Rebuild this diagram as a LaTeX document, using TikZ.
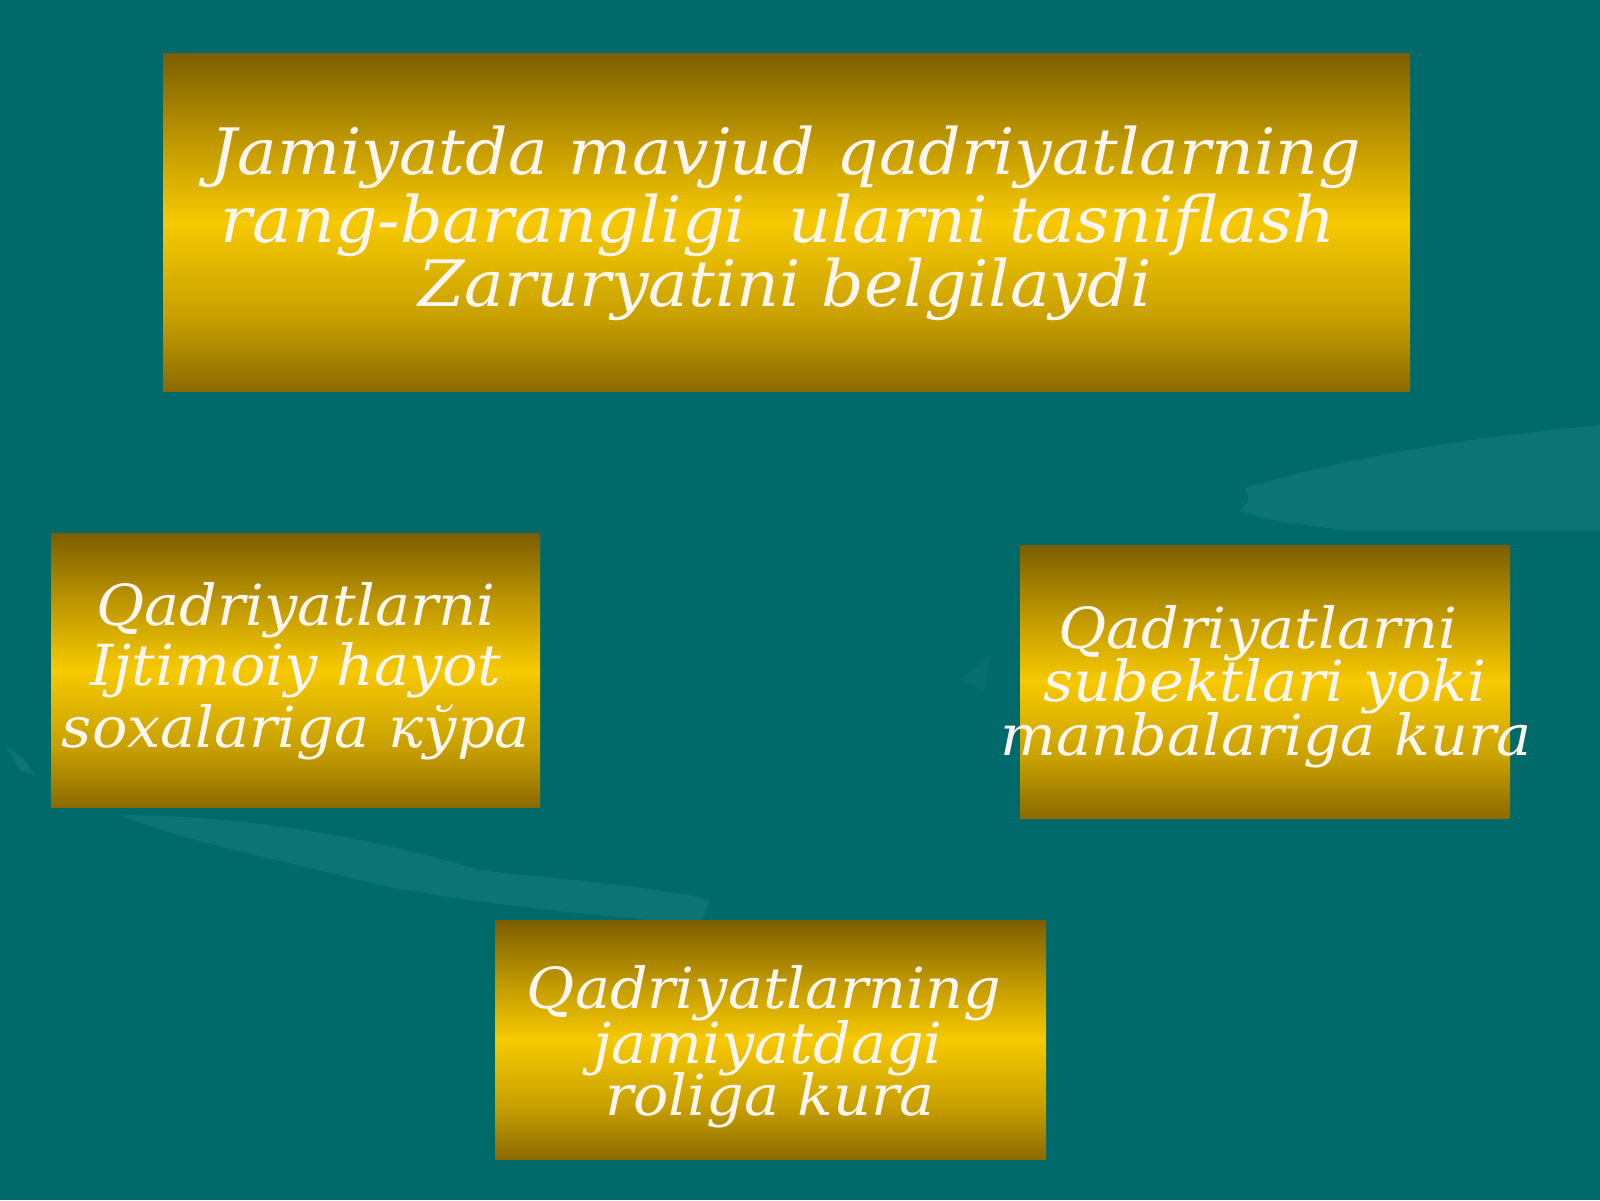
\documentclass[tikz,border=0pt]{standalone}
\usepackage{fontspec}
\setmainfont{DejaVu Serif}[FakeStretch=1.04]
\definecolor{bg}{HTML}{006A6A}
\definecolor{bglight}{HTML}{2A8C86}
\definecolor{gA}{HTML}{7C5E00}
\definecolor{gB}{HTML}{C49C00}
\definecolor{gC}{HTML}{F6C900}
\definecolor{gD}{HTML}{C8A000}
\definecolor{gE}{HTML}{8C6A00}
\definecolor{txtc}{HTML}{FFF6F2}
\pgfdeclareverticalshading{goldsh}{100bp}{color(0bp)=(gE); color(25bp)=(gE); color(36bp)=(gD); color(50bp)=(gC); color(61bp)=(gB); color(75bp)=(gA); color(100bp)=(gA)}
\begin{document}
\begin{tikzpicture}[x=0.5pt,y=-0.5pt,
  goldbox/.style={rectangle, inner sep=0pt, outer sep=0pt, shading=goldsh, anchor=north west},
  bigtxt/.style={text=txtc, inner sep=0pt, anchor=base, font=\fontsize{32pt}{34pt}\selectfont\itshape},
  smalltxt/.style={text=txtc, inner sep=0pt, anchor=base, font=\fontsize{28.3pt}{30pt}\selectfont\itshape},
  hand/.style={fill=bglight, opacity=0.3, draw=none}]
\fill[bg] (0,0) rectangle (1600,1200);
\useasboundingbox (0,0) rectangle (1600,1200);
% faint background shapes
\fill[hand] (1245,488) .. controls (1320,465) and (1440,440) .. (1600,425) -- (1600,530) -- (1345,530) .. controls (1300,525) and (1260,520) .. (1240,510) .. controls (1250,500) .. (1245,488) -- cycle;
\fill[hand] (120,815) .. controls (250,815) and (380,840) .. (480,870) .. controls (560,880) and (650,885) .. (710,900) -- (700,925) .. controls (600,915) and (480,905) .. (380,885) .. controls (280,860) and (180,840) .. (120,815) -- cycle;
\fill[hand] (5,745) -- (25,760) -- (35,775) -- (20,770) -- cycle;
\fill[hand, opacity=0.15] (960,680) -- (990,655) -- (985,690) -- cycle;
% boxes
\node[goldbox, minimum width=623.5pt, minimum height=169pt] (top) at (163,53) {};
\node[goldbox, minimum width=244.5pt, minimum height=137pt] (left) at (51,533) {};
\node[goldbox, minimum width=245pt, minimum height=136.5pt] (right) at (1020,545) {};
\node[goldbox, minimum width=275.5pt, minimum height=119.5pt] (bottom) at (495,920) {};
% texts
\node[bigtxt] (t1) at (786,174) {Jamiyatda mavjud qadriyatlarning};
\node[bigtxt] (t2) at (778,242) {rang-barangligi\ \ ularni tasniflash};
\node[bigtxt] (t3) at (785,306) {Zaruryatini belgilaydi};
\node[smalltxt] (l1) at (296,625) {Qadriyatlarni};
\node[smalltxt] (l2) at (296,685) {Ijtimoiy hayot};
\node[smalltxt] (l3) at (296,747) {soxalariga кўра};
\node[smalltxt] (r1) at (1258,648) {Qadriyatlarni};
\node[smalltxt] (r2) at (1265,701) {subektlari yoki};
\node[smalltxt] (r3) at (1266,755) {manbalariga kura};
\node[smalltxt] (b1) at (764,1008) {Qadriyatlarning};
\node[smalltxt] (b2) at (768,1063) {jamiyatdagi};
\node[smalltxt] (b3) at (770,1115) {roliga kura};
\end{tikzpicture}
\end{document}
